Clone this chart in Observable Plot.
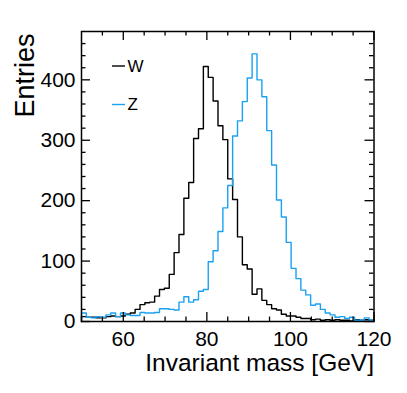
<!DOCTYPE html>
<html><head><meta charset="utf-8">
<script src="https://cdn.jsdelivr.net/npm/d3@7"></script>
<script src="https://cdn.jsdelivr.net/npm/@observablehq/plot@0.6"></script>
<style>
body{margin:0;background:#fff}
#chart{position:relative;width:407px;height:393px}
</style>
</head><body><div id="chart"></div>
<script>
// Histogram range (60 bins from 50 to 120 GeV)
const histLow = 50;
const histHigh = 120;

const wCounts = [8, 7, 7, 6, 6, 8, 9, 8, 9, 12,
  14, 20, 28, 31, 32, 42, 53, 55, 78, 114,
  144, 204, 230, 303, 319, 422, 404, 365, 324, 301,
  236, 202, 140, 94, 87, 45, 54, 35, 28, 21,
  19, 12, 9, 9, 7, 5, 5, 3, 4, 2,
  3, 2, 3, 2, 2, 1, 3, 2, 3, 2];

const zCounts = [14, 7, 6, 8, 7, 11, 14, 8, 14, 11,
  10, 10, 15, 14, 14, 15, 21, 21, 20, 19,
  32, 41, 32, 36, 50, 53, 99, 117, 149, 188,
  225, 307, 332, 364, 403, 443, 400, 372, 316, 259,
  201, 173, 131, 88, 71, 52, 44, 27, 29, 20,
  14, 11, 7, 8, 5, 7, 2, 2, 6, 2];

const seriesNames = ["W", "Z"];
const seriesColors = ["#000000", "#1ba1f2"];

const xMajorTicks = [60, 80, 100, 120];
const xMinorTicks = [55, 65, 70, 75, 85, 90, 95, 105, 110, 115];
const yMajorTicks = [0, 100, 200, 300, 400];
const yMinorTicks = [20, 40, 60, 80, 120, 140, 160, 180, 220, 240, 260, 280, 320, 340, 360, 380, 420, 440, 460];

function outline(counts) {
  const w = (histHigh - histLow) / counts.length;
  const pts = [{x: histLow, y: 0}];
  counts.forEach((c, i) => pts.push({x: histLow + i * w, y: c}));
  pts.push({x: histHigh, y: counts[counts.length - 1]});
  pts.push({x: histHigh, y: 0});
  return pts;
}

const W = 407, H = 393;
const mL = 81, mR = 33.5, mT = 31, mB = 72;
const fw = W - mL - mR, fh = H - mT - mB;
const major = 9, minor = 4.5;
const tickW = 1.3;

const series = [wCounts, zCounts];

const plot = Plot.plot({
  width: W, height: H,
  marginLeft: mL, marginRight: mR, marginTop: mT, marginBottom: mB,
  style: {fontFamily: "'Liberation Sans', Arial, Helvetica, sans-serif", background: "white", color: "black", overflow: "visible"},
  x: {domain: [histLow, histHigh]},
  y: {domain: [0, 480]},
  marks: [
    ...series.map((c, i) => Plot.line(outline(c), {x: "x", y: "y", curve: "step-after", stroke: seriesColors[i], strokeWidth: 1.4})),
    // inward ticks, bottom / top
    Plot.ruleX(xMajorTicks, {insetTop: fh - major, stroke: "black", strokeWidth: tickW}),
    Plot.ruleX(xMinorTicks, {insetTop: fh - minor, stroke: "black", strokeWidth: tickW}),
    Plot.ruleX(xMajorTicks, {insetBottom: fh - major, stroke: "black", strokeWidth: tickW}),
    Plot.ruleX(xMinorTicks, {insetBottom: fh - minor, stroke: "black", strokeWidth: tickW}),
    // inward ticks, left / right
    Plot.ruleY(yMajorTicks, {insetRight: fw - major, stroke: "black", strokeWidth: tickW}),
    Plot.ruleY(yMinorTicks, {insetRight: fw - minor, stroke: "black", strokeWidth: tickW}),
    Plot.ruleY(yMajorTicks, {insetLeft: fw - major, stroke: "black", strokeWidth: tickW}),
    Plot.ruleY(yMinorTicks, {insetLeft: fw - minor, stroke: "black", strokeWidth: tickW}),
    Plot.frame({stroke: "black", strokeWidth: 1.5}),
    Plot.axisX(xMajorTicks, {tickSize: 0, tickPadding: 10, fontSize: 21, label: null}),
    Plot.axisY(yMajorTicks, {tickSize: 0, tickPadding: 6, fontSize: 21, label: null}),
    Plot.text(["Invariant mass [GeV]"], {frameAnchor: "bottom-right", dy: 42, fontSize: 24.5, textAnchor: "end", lineAnchor: "middle", fill: "black"}),
    Plot.text(["Entries"], {frameAnchor: "top-left", rotate: -90, textAnchor: "end", lineAnchor: "middle", dx: -56, dy: 2, fontSize: 27, fill: "black"}),
    ...seriesNames.map((n, i) => Plot.text([n], {frameAnchor: "top-left", dx: 46, dy: 35 + 38.5 * i, textAnchor: "start", lineAnchor: "middle", fontSize: 17, fill: "black"}))
  ]
});

document.getElementById("chart").appendChild(plot);

// legend line samples
const svg = d3.select(plot);
seriesNames.forEach((n, i) => {
  svg.append("line")
    .attr("x1", mL + 31).attr("x2", mL + 44)
    .attr("y1", mT + 35 + 38.5 * i).attr("y2", mT + 35 + 38.5 * i)
    .attr("stroke", seriesColors[i]).attr("stroke-width", 1.4);
});
</script>
</body></html>
